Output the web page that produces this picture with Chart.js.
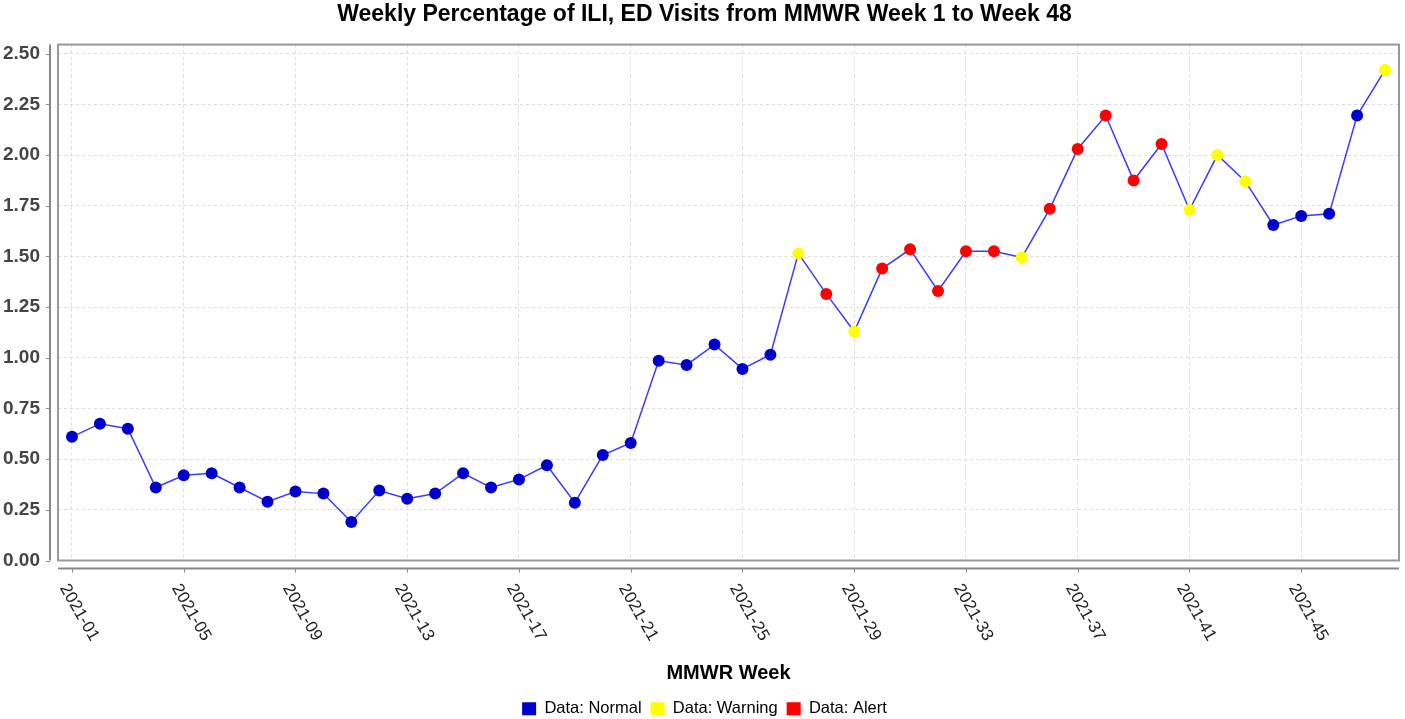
<!DOCTYPE html>
<html>
<head>
<meta charset="utf-8">
<script src="https://cdn.jsdelivr.net/npm/chart.js@4.4.0/dist/chart.umd.min.js"></script>
<style>
  html, body { margin: 0; padding: 0; background: #fff; }
  #wrap { width: 1405px; height: 719px; }
</style>
</head>
<body>
<div id="wrap"><canvas id="iliChart"></canvas></div>
<script>
// week labels, ILI % values and alert level per week
const weeks = [
  '2021-01','2021-02','2021-03','2021-04','2021-05','2021-06','2021-07','2021-08',
  '2021-09','2021-10','2021-11','2021-12','2021-13','2021-14','2021-15','2021-16',
  '2021-17','2021-18','2021-19','2021-20','2021-21','2021-22','2021-23','2021-24',
  '2021-25','2021-26','2021-27','2021-28','2021-29','2021-30','2021-31','2021-32',
  '2021-33','2021-34','2021-35','2021-36','2021-37','2021-38','2021-39','2021-40',
  '2021-41','2021-42','2021-43','2021-44','2021-45','2021-46','2021-47','2021-48'
];
const iliPercent = [
  0.61, 0.675, 0.65, 0.36, 0.42, 0.43, 0.36, 0.29,
  0.34, 0.33, 0.19, 0.345, 0.305, 0.33, 0.43, 0.36,
  0.40, 0.47, 0.285, 0.52, 0.58, 0.985, 0.965, 1.065,
  0.945, 1.015, 1.515, 1.315, 1.13, 1.44, 1.535, 1.33,
  1.525, 1.525, 1.495, 1.735, 2.03, 2.195, 1.875, 2.055,
  1.73, 2.0, 1.87, 1.655, 1.70, 1.71, 2.195, 2.42
];
const status = [
  'N','N','N','N','N','N','N','N',
  'N','N','N','N','N','N','N','N',
  'N','N','N','N','N','N','N','N',
  'N','N','W','A','W','A','A','A',
  'A','A','W','A','A','A','A','A',
  'W','W','W','N','N','N','N','W'
];
const statusNames = { N: 'Data: Normal', W: 'Data: Warning', A: 'Data: Alert' };
const statusColors = { N: '#0000cc', W: '#ffff00', A: '#ff0000' };
const yTop = 2.545;   // axis range a bit above the last 2.50 tick

const FONT = '"Liberation Sans", Arial, sans-serif';
const LABEL_ANGLE = Math.PI / 3;

// JFreeChart-like frame, offset axes and rotated tick labels
const framePlugin = {
  id: 'frame',
  beforeDatasetsDraw(chart) {
    const { ctx, chartArea: a } = chart;
    ctx.save();
    ctx.strokeStyle = '#999';
    ctx.lineWidth = 2;
    ctx.strokeRect(a.left, a.top, a.right - a.left, a.bottom - a.top);
    ctx.restore();
  },
  afterDraw(chart) {
    const { ctx, chartArea: a } = chart;
    const x = chart.scales.x, y = chart.scales.y;
    ctx.save();
    ctx.strokeStyle = '#888';
    ctx.lineWidth = 2;
    // offset y axis
    ctx.beginPath();
    ctx.moveTo(a.left - 8, a.top);
    ctx.lineTo(a.left - 8, a.bottom);
    ctx.stroke();
    // offset x axis
    ctx.beginPath();
    ctx.moveTo(a.left, a.bottom + 8);
    ctx.lineTo(a.right, a.bottom + 8);
    ctx.stroke();
    ctx.lineWidth = 1;
    y.ticks.forEach((t, i) => {
      const py = Math.round(y.getPixelForTick(i)) + 0.5;
      ctx.beginPath();
      ctx.moveTo(a.left - 12, py);
      ctx.lineTo(a.left - 8, py);
      ctx.stroke();
    });
    ctx.fillStyle = '#222';
    ctx.font = '17px ' + FONT;
    ctx.textAlign = 'left';
    ctx.textBaseline = 'middle';
    x.ticks.forEach((t, i) => {
      const px = Math.round(x.getPixelForTick(i)) + 0.5;
      ctx.beginPath();
      ctx.moveTo(px, a.bottom + 8);
      ctx.lineTo(px, a.bottom + 12);
      ctx.stroke();
      ctx.save();
      ctx.translate(px - 9, a.bottom + 25);
      ctx.rotate(LABEL_ANGLE);
      ctx.fillText(weeks[t.value], 0, 0);
      ctx.restore();
    });
    ctx.restore();
  }
};

new Chart(document.getElementById('iliChart'), {
  type: 'line',
  data: {
    labels: weeks,
    datasets: [{
      label: 'ILI',
      data: iliPercent,
      borderColor: '#3a3aff',
      borderWidth: 1.5,
      tension: 0,
      fill: false,
      pointRadius: 6,
      pointHoverRadius: 6,
      pointBorderWidth: 0,
      pointBackgroundColor: status.map(s => statusColors[s]),
      pointBorderColor: status.map(s => statusColors[s])
    }]
  },
  options: {
    responsive: true,
    maintainAspectRatio: false,
    animation: false,
    layout: { padding: { left: 0, right: -4, top: 1, bottom: -8 } },
    plugins: {
      title: {
        display: true,
        text: 'Weekly Percentage of ILI, ED Visits from MMWR Week 1 to Week 48',
        color: '#000',
        font: { family: FONT, size: 23, weight: 'bold' },
        padding: { top: 0, bottom: 16 }
      },
      legend: {
        position: 'bottom',
        onClick: null,
        labels: {
          color: '#000',
          font: { family: FONT, size: 16.5 },
          boxWidth: 14,
          boxHeight: 13,
          padding: 9,
          generateLabels: () => Object.keys(statusNames).map(k => ({
            text: statusNames[k],
            fillStyle: statusColors[k],
            strokeStyle: statusColors[k],
            lineWidth: 0,
            hidden: false
          }))
        }
      },
      tooltip: { enabled: false }
    },
    scales: {
      x: {
        type: 'category',
        offset: true,
        afterBuildTicks(scale) {
          scale.ticks = scale.ticks.filter(t => t.value % 4 === 0);
        },
        afterFit(scale) { scale.height = 131; },
        grid: { offset: false, color: '#dcdcdc', drawTicks: false },
        border: { display: false, dash: [3, 3] },
        ticks: { autoSkip: false, display: false },
        title: {
          display: true,
          text: 'MMWR Week',
          color: '#000',
          font: { family: FONT, size: 20, weight: 'bold' },
          padding: { top: 0, bottom: 6 }
        }
      },
      y: {
        min: 0,
        max: yTop,
        afterBuildTicks(scale) {
          scale.ticks = scale.ticks.filter(t => t.value <= 2.51);
        },
        afterFit(scale) { scale.width = 58; },
        grid: { color: '#dcdcdc', drawTicks: false },
        border: { display: false, dash: [3, 3] },
        ticks: {
          stepSize: 0.25,
          includeBounds: false,
          padding: 18,
          color: '#444',
          font: { family: FONT, size: 19, weight: 'bold' },
          callback: v => v.toFixed(2)
        }
      }
    }
  },
  plugins: [framePlugin]
});
</script>
</body>
</html>
